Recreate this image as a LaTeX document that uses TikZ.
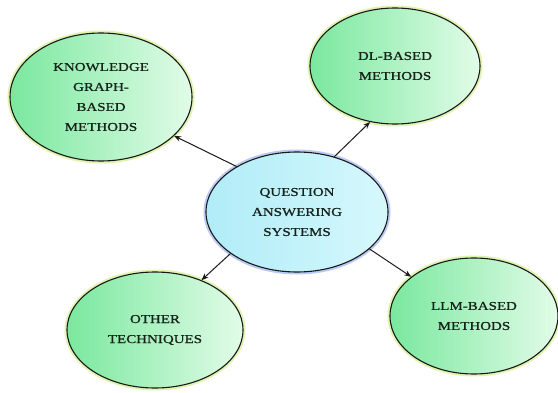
\documentclass[tikz,border=0pt]{standalone}
\usepackage{fontspec}
\usepackage{tikz}
\usetikzlibrary{shapes.geometric,arrows.meta}
\newfontfamily\qafont[FakeStretch=1.25,FakeBold=0.8]{Liberation Serif}

\definecolor{leafleft}{RGB}{122,232,158}
\definecolor{leafright}{RGB}{226,252,232}
\definecolor{leafglow}{RGB}{205,235,125}
\definecolor{hubleft}{RGB}{176,236,248}
\definecolor{hubright}{RGB}{214,248,252}
\definecolor{hubglow}{RGB}{120,150,235}
\definecolor{textdark}{RGB}{22,34,26}

\tikzset{
  bubble/.style={ellipse, draw=black!90, line width=1.1pt, inner sep=0pt,
    align=center, text=textdark,
    font=\qafont\fontsize{12}{20}\selectfont},
  leaf/.style={bubble, left color=leafleft, right color=leafright,
    preaction={draw=leafglow, line width=5pt, opacity=0.6}},
  hub/.style={bubble, left color=hubleft, right color=hubright,
    preaction={draw=hubglow, line width=5pt, opacity=0.5}},
  link/.style={-{Stealth[length=7pt,width=5.5pt]}, line width=1pt, black!90}
}

\begin{document}
\begin{tikzpicture}[x=1pt,y=1pt]
  \useasboundingbox (0,0) rectangle (558,392);

  % --- CENTRAL TOPIC ---
  \node[hub, minimum width=182pt, minimum height=120pt] (qa) at (297,180)
    {QUESTION\\ANSWERING\\SYSTEMS};

  % --- BRANCHES ---
  \node[leaf, minimum width=182pt, minimum height=128pt] (kg) at (101,295)
    {KNOWLEDGE\\GRAPH-\\BASED\\METHODS};
  \node[leaf, minimum width=170pt, minimum height=116pt] (dl) at (395,326)
    {DL-BASED\\METHODS};
  \node[leaf, minimum width=176pt, minimum height=116pt] (ot) at (155,62)
    {OTHER\\TECHNIQUES};
  \node[leaf, minimum width=168pt, minimum height=116pt] (llm) at (474,76)
    {LLM-BASED\\METHODS};

  % --- ARROWS (hub -> branch) ---
  \draw[link] (qa.143.7) -- (kg.-28.7);
  \draw[link] (qa.56.3) -- (dl.-114.5);
  \draw[link] (qa.212) -- (ot.47.5);
  \draw[link] (qa.-27.2) -- (llm.148);
\end{tikzpicture}
\end{document}
